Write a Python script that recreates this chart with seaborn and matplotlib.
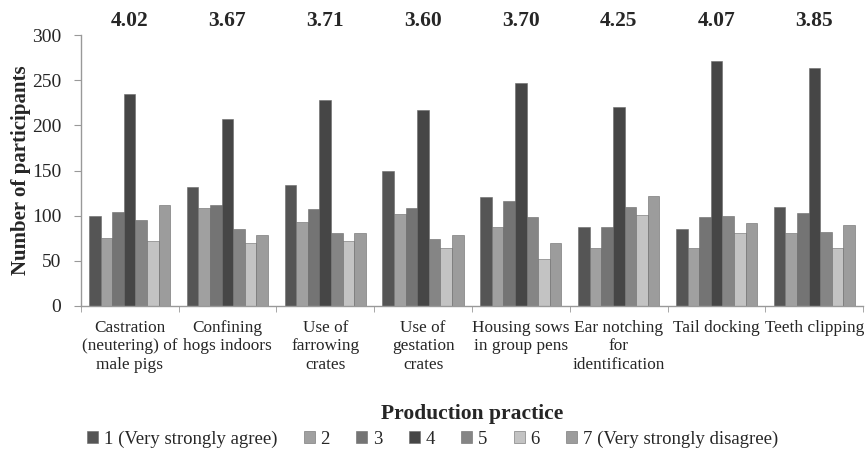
'''
Grouped bar chart: attitudes towards swine production practices.
'''

import numpy as np
import pandas as pd
import matplotlib
matplotlib.use('Agg')
import matplotlib.pyplot as plt
import seaborn as sns

# Categories and values
practices = ['Castration\n(neutering) of\nmale pigs', 'Confining\nhogs indoors',
             'Use of\nfarrowing\ncrates', 'Use of\ngestation\ncrates',
             'Housing sows\nin group pens', 'Ear notching\nfor\nidentification',
             'Tail docking', 'Teeth clipping']
ratings = ['1 (Very strongly agree)', '2', '3', '4', '5', '6', '7 (Very strongly disagree)']
means = ['4.02', '3.67', '3.71', '3.60', '3.70', '4.25', '4.07', '3.85']

r1 = [100, 132, 134, 149, 121, 88, 85, 110]
r2 = [75, 108, 93, 102, 88, 64, 64, 81]
r3 = [104, 112, 107, 109, 116, 88, 99, 103]
r4 = [235, 207, 228, 217, 247, 220, 271, 263]
r5 = [95, 85, 81, 74, 98, 110, 100, 82]
r6 = [72, 70, 72, 64, 52, 101, 81, 64]
r7 = [112, 79, 81, 79, 70, 122, 92, 90]

greys = ['#555555', '#a0a0a0', '#747474', '#464646', '#858585', '#c3c3c3', '#9c9c9c']

# Build long-format table
counts = [r1, r2, r3, r4, r5, r6, r7]
rows = []
for rating, vals in zip(ratings, counts):
    for practice, v in zip(practices, vals):
        rows.append({'practice': practice, 'rating': rating, 'count': v})
df = pd.DataFrame(rows)

sns.set_style('white')
plt.rcParams['font.family'] = ['Liberation Serif', 'DejaVu Serif']

fig = plt.figure(figsize=(8.65, 4.49), dpi=100)
ax = fig.add_axes([0.0933, 0.3185, 0.9047, 0.6035])

sns.barplot(data=df, x='practice', y='count', hue='rating', order=practices,
            hue_order=ratings, palette=greys, width=0.83, edgecolor='#6a6a6a',
            linewidth=0.4, ax=ax)

ax.set_ylim(0, 300)
ax.set_xlim(-0.5, len(practices) - 0.5)
ax.set_yticks(np.arange(0, 301, 50))
ax.tick_params(axis='y', labelsize=14, length=5, color='#999999', direction='out', left=True, pad=9)
ax.tick_params(axis='x', which='major', labelsize=12.4, length=0, pad=10)
ax.set_xticks(np.arange(-0.5, len(practices)), minor=True)
ax.tick_params(axis='x', which='minor', length=4, color='#999999', direction='out', bottom=True)

for side in ['top', 'right']:
    ax.spines[side].set_visible(False)
for side in ['left', 'bottom']:
    ax.spines[side].set_color('#999999')
    ax.spines[side].set_linewidth(1.0)

# Mean scores above each group
for i, m in enumerate(means):
    ax.annotate(m, xy=(i, 1.05), xycoords=('data', 'axes fraction'),
                ha='center', va='center', fontsize=15.5, fontweight='bold')

ax.set_ylabel('Number of participants', fontsize=15, fontweight='bold')
ax.yaxis.set_label_coords(-0.064, 0.5)
ax.set_xlabel('Production practice', fontsize=15.5, fontweight='bold')
ax.xaxis.set_label_coords(0.5, -0.36)

handles, labels = ax.get_legend_handles_labels()
ax.legend_.remove()
fig.legend(handles, labels, loc='center', bbox_to_anchor=(0.5, 0.022), ncol=7,
           frameon=False, fontsize=13.5, handlelength=0.6, handleheight=0.6,
           handletextpad=0.3, columnspacing=1.4, borderaxespad=0)

fig.savefig('out.png', dpi=100)
